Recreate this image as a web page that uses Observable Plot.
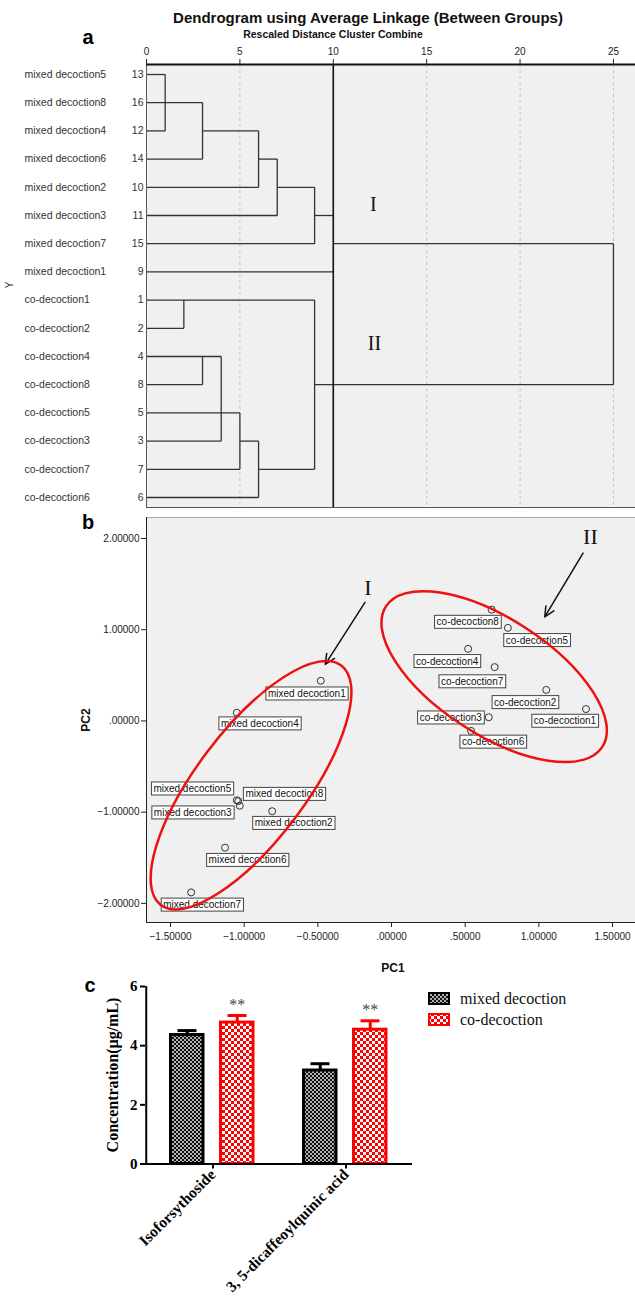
<!DOCTYPE html>
<html><head><meta charset="utf-8">
<script src="https://cdn.jsdelivr.net/npm/d3@7"></script>
<script src="https://cdn.jsdelivr.net/npm/@observablehq/plot@0.6"></script>
<style>
body{margin:0;background:#fff;}
#fig{position:relative;width:635px;height:1313px;overflow:hidden;font-family:"Liberation Sans",Arial,sans-serif;}
#fig svg.panel{position:absolute;left:0;overflow:visible;}
.t{position:absolute;white-space:nowrap;line-height:1;}
</style></head><body>
<svg width="0" height="0" style="position:absolute">
  <defs>
    <pattern id="pMixed" width="4" height="4" patternUnits="userSpaceOnUse">
      <rect width="4" height="4" fill="#111"/>
      <rect x="0" y="0" width="2" height="2" fill="#b0b0b0"/>
      <rect x="2" y="2" width="2" height="2" fill="#b0b0b0"/>
    </pattern>
    <pattern id="pCo" width="6" height="6" patternUnits="userSpaceOnUse">
      <rect width="6" height="6" fill="#ff0000"/>
      <rect x="0" y="0" width="3" height="3" fill="#fff"/>
      <rect x="3" y="3" width="3" height="3" fill="#fff"/>
    </pattern>
  </defs>
</svg>
<div id="fig"></div>
<script>
// ===== Panel a: dendrogram data =====
const rowNames = ["mixed decoction5","mixed decoction8","mixed decoction4","mixed decoction6","mixed decoction2","mixed decoction3","mixed decoction7","mixed decoction1",
  "co-decoction1","co-decoction2","co-decoction4","co-decoction8","co-decoction5","co-decoction3","co-decoction7","co-decoction6"];
const rowIds = [13,16,12,14,10,11,15,9,1,2,4,8,5,3,7,6];
const distTicks = [0,5,10,15,20,25];
// horizontal segments: [row index, from distance, to distance]
const hSegs = [[0,0,1],[1,0,3],[2,0,1],[2,3,6],[3,0,3],[3,6,7],[4,0,6],[4,7,9],[5,0,7],[5,9,10],[6,0,9],[6,10,25],[7,0,10],
  [8,0,9],[9,0,2],[10,0,4],[11,0,3],[11,9,25],[12,0,5],[13,0,4],[13,5,6],[14,0,5],[14,6,9],[15,0,6]];
// vertical segments: [distance, row from, row to]
const vSegs = [[1,0,2],[3,1,3],[6,2,4],[7,3,5],[9,4,6],[2,8,9],[3,10,11],[4,10,13],[5,12,14],[6,13,15],[9,8,14],[25,6,11]];
const cutDistance = 10;
const clusterNames = ["I","II"];
const clusterDist = [12.15, 12.2];
const clusterRow = [4.6, 9.55];

// ===== Panel b: PCA data =====
const pcaNames = ["mixed decoction1","mixed decoction2","mixed decoction3","mixed decoction4","mixed decoction5","mixed decoction6","mixed decoction7","mixed decoction8",
  "co-decoction1","co-decoction2","co-decoction3","co-decoction4","co-decoction5","co-decoction6","co-decoction7","co-decoction8"];
const pc1 = [-0.48,-0.81,-1.03,-1.05,-1.05,-1.13,-1.36,-1.04, 1.32,1.05,0.66,0.52,0.79,0.54,0.70,0.68];
const pc2 = [0.44,-0.99,-0.93,0.09,-0.87,-1.39,-1.88,-0.88, 0.13,0.34,0.04,0.79,1.02,-0.11,0.59,1.22];
const pcaXTicks = [-1.5,-1,-0.5,0,0.5,1,1.5];
const pcaYTicks = [-2,-1,0,1,2];
const arrowX1 = [-0.18, 1.30], arrowY1 = [1.30, 1.84], arrowX2 = [-0.45, 1.04], arrowY2 = [0.62, 1.14];
const groupLabelX = [-0.16, 1.35], groupLabelY = [1.46, 2.02];
const ellipseCX = [-0.95, 0.70], ellipseCY = [-0.71, 0.48];

// ===== Panel c: bar data =====
const compounds = ["Isoforsythoside", "3, 5-dicaffeoylquinic acid"];
const seriesNames = ["mixed decoction", "co-decoction"];
const mixedMean = [4.36, 3.16];
const mixedSD = [0.15, 0.23];
const coMean = [4.78, 4.54];
const coSD = [0.24, 0.30];
const sigMarks = ["**", "**"];
const concTicks = [0,2,4,6];

// ---------- layout / style (not data) ----------
const labelOffsets = [[-14,13],[21.5,12],[-47,7],[23,11],[-44.5,-11.5],[22.5,12.5],[11,12.5],[46,-7],
  [-21,12],[-21,12.5],[-38,0.5],[-21,12.5],[29,12.5],[22,11],[-22.5,14.5],[-24,12.5]];
const ellipseStyle = [{rx:150, ry:55, angle:-53},{rx:129, ry:58, angle:33}];
const fig = document.getElementById("fig");
const NS = "http://www.w3.org/2000/svg";
function addText(txt, x, y, css, rot){
  const d = document.createElement("div");
  d.className = "t"; d.textContent = txt;
  d.style.left = x + "px"; d.style.top = y + "px";
  d.style.transform = "translate(-50%,-50%)" + (rot ? ` rotate(${rot}deg)` : "");
  Object.assign(d.style, css);
  fig.appendChild(d);
}
function place(svg, top){ svg.classList.add("panel"); svg.style.top = top + "px"; fig.appendChild(svg); }
const fmt5 = v => d3.format(".5f")(v).replace(/^(-?)0\./, "$1.");

// ===== Panel a =====
const rowsA = rowNames.map((n,i)=>({i, name:n, id:String(rowIds[i])}));
const yTop = -0.355, yBot = 15.355, xMaxA = 26.18;
const plotA = Plot.plot({
  width:635, height:512, marginLeft:146, marginRight:0, marginTop:64, marginBottom:5,
  style:{fontFamily:"'Liberation Sans', Arial, sans-serif", fontSize:"10px", color:"#222", background:"transparent"},
  x:{domain:[0, xMaxA]},
  y:{domain:[yTop, yBot], reverse:true, axis:null},
  marks:[
    Plot.frame({fill:"#f0f0f0"}),
    Plot.ruleX(distTicks.filter(t=>t>0 && t!==cutDistance), {stroke:"#c4c4c4", strokeDasharray:"3,3"}),
    Plot.link(hSegs, {x1:d=>d[1], x2:d=>d[2], y1:d=>d[0], y2:d=>d[0], stroke:"#333", strokeWidth:1.3}),
    Plot.link(vSegs, {x1:d=>d[0], x2:d=>d[0], y1:d=>d[1], y2:d=>d[2], stroke:"#333", strokeWidth:1.3}),
    Plot.ruleX([cutDistance], {stroke:"#111", strokeWidth:1.6}),
    Plot.ruleX([0], {stroke:"#555"}),
    Plot.ruleY([yBot], {stroke:"#555"}),
    Plot.ruleY([yTop], {stroke:"#111", strokeWidth:2}),
    Plot.axisX({anchor:"top", ticks:distTicks, tickSize:6, tickPadding:4, label:null, fontSize:10}),
    Plot.text(rowsA, {y:"i", text:"name", frameAnchor:"left", textAnchor:"start", dx:-122, fontSize:10.5, fill:"#333"}),
    Plot.text(rowsA, {y:"i", text:"id", frameAnchor:"left", textAnchor:"end", dx:-3, fontSize:10.5, fill:"#333"}),
    Plot.text(clusterNames, {x:(d,i)=>clusterDist[i], y:(d,i)=>clusterRow[i], text:d=>d, fontFamily:"'Liberation Serif', serif", fontSize:20, fill:"#111"})
  ]
});
place(plotA, 0);
addText("Dendrogram using Average Linkage (Between Groups)", 368, 17, {fontSize:"15px", fontWeight:"bold", color:"#111"});
addText("Rescaled Distance Cluster Combine", 333, 34, {fontSize:"10.5px", fontWeight:"bold", color:"#111"});
addText("a", 88, 37, {fontSize:"20px", fontWeight:"bold", color:"#000"});
addText("Y", 10, 285, {fontSize:"10px", color:"#333"}, -90);

// ===== Panel b =====
const pcaRows = pcaNames.map((n,i)=>({name:n, pc1:pc1[i], pc2:pc2[i]}));
const xDomB = [-1.663, 1.656], yDomB = [-2.21, 2.23];
const plotB = Plot.plot({
  width:635, height:470, marginLeft:146, marginRight:0, marginTop:5, marginBottom:60,
  style:{fontFamily:"'Liberation Sans', Arial, sans-serif", fontSize:"10px", color:"#222", background:"transparent"},
  x:{domain:xDomB}, y:{domain:yDomB},
  marks:[
    Plot.frame({fill:"#f0f0f0", stroke:"#aaa"}),
    Plot.ruleX([xDomB[0]], {stroke:"#222"}),
    Plot.ruleY([yDomB[0]], {stroke:"#222"}),
    Plot.axisX({ticks:pcaXTicks, tickFormat:fmt5, tickSize:5, tickPadding:5, label:null}),
    Plot.axisY({ticks:pcaYTicks, tickFormat:fmt5, tickSize:5, tickPadding:2, label:null}),
    Plot.dot(pcaRows, {x:"pc1", y:"pc2", r:3.5, stroke:"#333", fill:"none", strokeWidth:1}),
    ...pcaRows.map((d,i)=>Plot.text([d], {x:"pc1", y:"pc2", text:"name", dx:labelOffsets[i][0], dy:labelOffsets[i][1], fontSize:10, fill:"#111"})),
    Plot.arrow(arrowX1, {x1:d=>d, y1:(d,i)=>arrowY1[i], x2:(d,i)=>arrowX2[i], y2:(d,i)=>arrowY2[i], stroke:"#111", strokeWidth:1.5, headLength:11, headAngle:50}),
    Plot.text(clusterNames, {x:(d,i)=>groupLabelX[i], y:(d,i)=>groupLabelY[i], text:d=>d, fontFamily:"'Liberation Serif', serif", fontSize:22, fill:"#111"})
  ]
});
place(plotB, 512);
// boxes behind PCA labels
plotB.querySelectorAll("text").forEach(t=>{
  if (!/decoction/.test(t.textContent)) return;
  const bb = t.getBBox();
  const r = document.createElementNS(NS, "rect");
  r.setAttribute("x", bb.x - 2); r.setAttribute("y", bb.y - 1);
  r.setAttribute("width", bb.width + 4); r.setAttribute("height", bb.height + 2);
  r.setAttribute("fill", "#fff"); r.setAttribute("stroke", "#444"); r.setAttribute("stroke-width", "1");
  const tr = t.getAttribute("transform");
  if (tr) r.setAttribute("transform", tr);
  t.parentNode.insertBefore(r, t);
});
{
  const sx = plotB.scale("x"), sy = plotB.scale("y");
  ellipseCX.forEach((cx,i)=>{
    const e = document.createElementNS(NS, "ellipse");
    const px = sx.apply(cx), py = sy.apply(ellipseCY[i]);
    const st = ellipseStyle[i];
    e.setAttribute("cx", px); e.setAttribute("cy", py);
    e.setAttribute("rx", st.rx); e.setAttribute("ry", st.ry);
    e.setAttribute("transform", `rotate(${st.angle} ${px} ${py})`);
    e.setAttribute("fill", "none"); e.setAttribute("stroke", "#ee1111"); e.setAttribute("stroke-width", "2.5");
    plotB.appendChild(e);
  });
}
addText("b", 88, 522, {fontSize:"20px", fontWeight:"bold", color:"#000"});
addText("PC1", 393, 968, {fontSize:"12px", fontWeight:"bold", color:"#111"});
addText("PC2", 86, 720, {fontSize:"12px", fontWeight:"bold", color:"#111"}, -90);

// ===== Panel c =====
const barRows = compounds.map((c,i)=>({compound:c, mixed:mixedMean[i], mixedTop:mixedMean[i]+mixedSD[i], co:coMean[i], coTop:coMean[i]+coSD[i], sig:sigMarks[i]}));
const plotC = Plot.plot({
  width:635, height:338, marginLeft:145, marginRight:223, marginTop:11, marginBottom:149.5,
  style:{fontFamily:"'Liberation Serif', 'Times New Roman', serif", fontSize:"15px", fontWeight:"bold", color:"#000", background:"transparent"},
  x:{type:"band", domain:compounds, padding:0},
  y:{domain:[0,6]},
  marks:[
    Plot.barY(barRows, {x:"compound", y:"mixed", fill:"url(#pMixed)", stroke:"#000", strokeWidth:3, insetLeft:24.5, insetRight:76}),
    Plot.barY(barRows, {x:"compound", y:"co", fill:"url(#pCo)", stroke:"#ff0000", strokeWidth:3, insetLeft:74.5, insetRight:26}),
    Plot.ruleX(barRows, {x:"compound", y1:"mixed", y2:"mixedTop", dx:-25.75, stroke:"#000", strokeWidth:3}),
    Plot.tickY(barRows, {x:"compound", y:"mixedTop", insetLeft:31.5, insetRight:82.5, stroke:"#000", strokeWidth:3}),
    Plot.ruleX(barRows, {x:"compound", y1:"co", y2:"coTop", dx:24.25, stroke:"#ff0000", strokeWidth:3}),
    Plot.tickY(barRows, {x:"compound", y:"coTop", insetLeft:81.5, insetRight:32.5, stroke:"#ff0000", strokeWidth:3}),
    Plot.text(barRows, {x:"compound", y:"coTop", text:"sig", dx:24.25, dy:-11, fontSize:16, fontWeight:"normal", fill:"#444"}),
    Plot.ruleY([0], {stroke:"#000", strokeWidth:2}),
    Plot.ruleX([compounds[0]], {y1:0, y2:6, dx:-66.75, stroke:"#000", strokeWidth:2}),
    Plot.axisY({ticks:concTicks, tickFormat:d=>String(d), tickSize:5, tickPadding:3, label:null, strokeWidth:2, fontSize:15}),
    Plot.axisX({ticks:compounds, tickSize:5, tickPadding:3, tickRotate:-45, label:null, strokeWidth:2, fontSize:15.5})
  ]
});
place(plotC, 975);
addText("c", 90, 985, {fontSize:"20px", fontWeight:"bold", color:"#000"});
addText("Concentration(\u03bcg/mL)", 113, 1075, {fontSize:"16px", fontWeight:"bold", fontFamily:"'Liberation Serif', serif", color:"#000"}, -90);
// legend
seriesNames.forEach((s,i)=>{
  const y = 992 + i*21;
  const sw = document.createElementNS(NS, "svg");
  sw.setAttribute("width", 22); sw.setAttribute("height", 13);
  sw.style.position = "absolute"; sw.style.left = "428px"; sw.style.top = y + "px";
  const r = document.createElementNS(NS, "rect");
  r.setAttribute("x", 1); r.setAttribute("y", 1); r.setAttribute("width", 20); r.setAttribute("height", 11);
  r.setAttribute("fill", i===0 ? "url(#pMixed)" : "url(#pCo)");
  r.setAttribute("stroke", i===0 ? "#000" : "#ff0000"); r.setAttribute("stroke-width", 2);
  sw.appendChild(r); fig.appendChild(sw);
  const d = document.createElement("div");
  d.className = "t"; d.textContent = s;
  Object.assign(d.style, {left:"460px", top:(y-1)+"px", fontSize:"16px", fontFamily:"'Liberation Serif', serif", color:"#111"});
  fig.appendChild(d);
});
</script>
</body></html>
